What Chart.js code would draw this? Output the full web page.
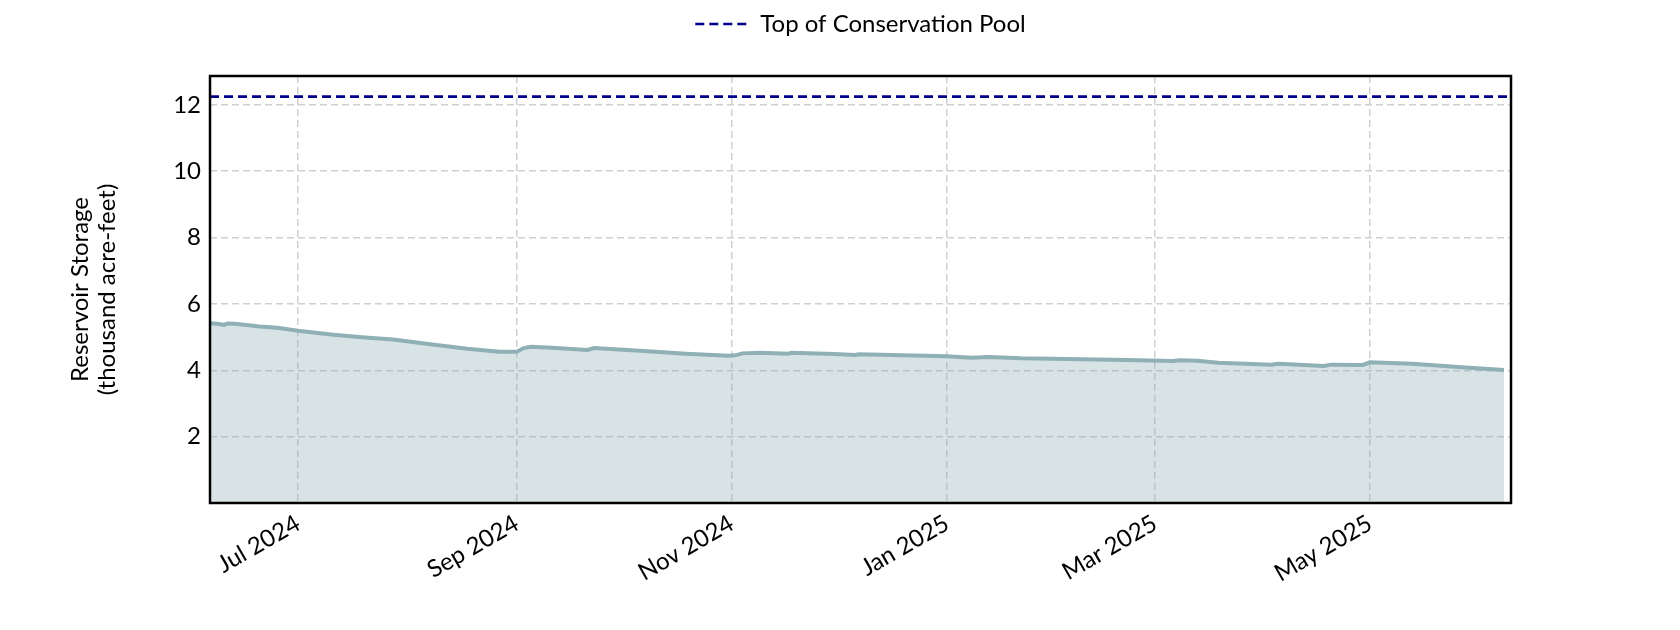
<!DOCTYPE html>
<html>
<head>
<meta charset="utf-8">
<script src="https://cdn.jsdelivr.net/npm/chart.js@4.4.1/dist/chart.umd.min.js"></script>
<style>
html, body { margin: 0; padding: 0; background: #fff; }
</style>
</head>
<body>
<canvas id="grafico-reservatorio" width="1680" height="630"></canvas>
<script>
const storageDates = [
    '2024-06-06', '2024-06-08', '2024-06-10', '2024-06-11', '2024-06-13', '2024-06-17', '2024-06-20', '2024-06-25',
    '2024-07-01', '2024-07-11', '2024-07-20', '2024-07-28', '2024-08-08', '2024-08-18', '2024-08-27', '2024-09-01',
    '2024-09-03', '2024-09-05', '2024-09-11', '2024-09-21', '2024-09-23', '2024-10-07', '2024-10-19', '2024-10-31',
    '2024-11-02', '2024-11-04', '2024-11-09', '2024-11-17', '2024-11-18', '2024-11-30', '2024-12-06', '2024-12-07',
    '2025-01-01', '2025-01-08', '2025-01-13', '2025-01-22', '2025-02-04', '2025-02-21', '2025-03-06', '2025-03-08',
    '2025-03-13', '2025-03-19', '2025-04-03', '2025-04-05', '2025-04-18', '2025-04-20', '2025-04-29', '2025-05-01',
    '2025-05-13', '2025-05-27', '2025-06-08',
]
const storageValues = [
    5.42, 5.40, 5.37, 5.41, 5.40, 5.36, 5.32, 5.28,
    5.19, 5.07, 4.99, 4.93, 4.78, 4.65, 4.56, 4.56,
    4.67, 4.71, 4.68, 4.61, 4.67, 4.58, 4.50, 4.44,
    4.45, 4.51, 4.53, 4.50, 4.53, 4.49, 4.46, 4.48,
    4.42, 4.38, 4.40, 4.36, 4.34, 4.31, 4.28, 4.30,
    4.29, 4.23, 4.17, 4.20, 4.13, 4.17, 4.16, 4.24,
    4.20, 4.09, 4.01,
]
const poolLevel = 12.25
const poolLabel = 'Top of Conservation Pool'
const xRange = ['2024-06-06', '2025-06-10']
const yMax = 12.87
const xTickDates = ['2024-07-01', '2024-09-01', '2024-11-01', '2025-01-01', '2025-03-01', '2025-05-01']
const xTickLabels = ['Jul 2024', 'Sep 2024', 'Nov 2024', 'Jan 2025', 'Mar 2025', 'May 2025']
const yTicks = [2, 4, 6, 8, 10, 12]
const yTitle = ['Reservoir Storage', '(thousand acre-feet)']

const toDay = (s) => {
    const [y, m, d] = s.split('-').map(Number)
    return Date.UTC(y, m - 1, d) / 864e5
}

const FONT = 'Lato, "Open Sans", sans-serif'
const POOL_COLOR = '#00008b'
const POOL_DASH = [9, 5]

// legend sits above the plot with a gap, like the original
const legendSpace = {
    id: 'legendSpace',
    afterInit(chart) {
        const fit = chart.legend.fit
        chart.legend.fit = function () {
            fit.bind(this)()
            this.height = 72
        }
    }
}

const plotFrame = {
    id: 'plotFrame',
    afterDatasetsDraw(chart) {
        const { ctx, chartArea: { left, top, right, bottom } } = chart
        ctx.save()
        ctx.strokeStyle = '#000'
        ctx.lineWidth = 2.5
        ctx.strokeRect(left, top, right - left, bottom - top)
        ctx.restore()
    }
}

const gridStyle = { color: '#d0d0d0', lineWidth: 1.5, drawTicks: false }
const borderStyle = { display: false, dash: [7, 4] }

new Chart(document.getElementById('grafico-reservatorio'), {
    type: 'line',
    data: {
        datasets: [
            {
                label: 'Storage',
                data: storageDates.map((d, i) => ({ x: toDay(d), y: storageValues[i] })),
                borderColor: '#8fb0b5',
                backgroundColor: 'rgba(143, 176, 181, 0.35)',
                borderWidth: 4,
                pointRadius: 0,
                tension: 0,
                fill: 'origin',
            },
            {
                label: poolLabel,
                data: xRange.map(d => ({ x: toDay(d), y: poolLevel })),
                borderColor: POOL_COLOR,
                borderWidth: 2.7,
                borderDash: POOL_DASH,
                pointRadius: 0,
                fill: false,
            },
        ]
    },
    options: {
        responsive: false,
        animation: false,
        devicePixelRatio: 1,
        layout: { padding: { top: 4, right: 169, bottom: 0, left: 0 } },
        plugins: {
            legend: {
                display: true,
                position: 'top',
                fullSize: false,
                labels: {
                    filter: (item) => item.datasetIndex === 1,
                    generateLabels: (chart) => Chart.defaults.plugins.legend.labels.generateLabels(chart)
                        .map(item => ({ ...item, lineDash: POOL_DASH, lineWidth: 2.7, strokeStyle: POOL_COLOR })),
                    usePointStyle: true,
                    pointStyle: 'line',
                    pointStyleWidth: 53,
                    padding: 8,
                    color: '#000',
                    font: { family: FONT, size: 24 },
                }
            },
            tooltip: { enabled: false },
        },
        scales: {
            x: {
                type: 'linear',
                min: toDay(xRange[0]),
                max: toDay(xRange[1]),
                afterBuildTicks: (scale) => { scale.ticks = xTickDates.map(d => ({ value: toDay(d) })) },
                afterFit: (scale) => { scale.height = 127 },
                ticks: {
                    autoSkip: false,
                    minRotation: 30,
                    maxRotation: 30,
                    padding: 6,
                    color: '#000',
                    font: { family: FONT, size: 24 },
                    callback: (value, index) => xTickLabels[index],
                },
                grid: gridStyle,
                border: borderStyle,
            },
            y: {
                min: 0,
                max: yMax,
                afterBuildTicks: (scale) => { scale.ticks = yTicks.map(v => ({ value: v })) },
                afterFit: (scale) => { scale.width = 210 },
                ticks: {
                    padding: 9,
                    color: '#000',
                    font: { family: FONT, size: 24 },
                },
                title: {
                    display: true,
                    text: yTitle,
                    color: '#000',
                    font: { family: FONT, size: 24, lineHeight: 1.12 },
                    padding: { top: 67, bottom: 0 },
                },
                grid: gridStyle,
                border: borderStyle,
            }
        }
    },
    plugins: [legendSpace, plotFrame]
})
</script>
</body>
</html>
